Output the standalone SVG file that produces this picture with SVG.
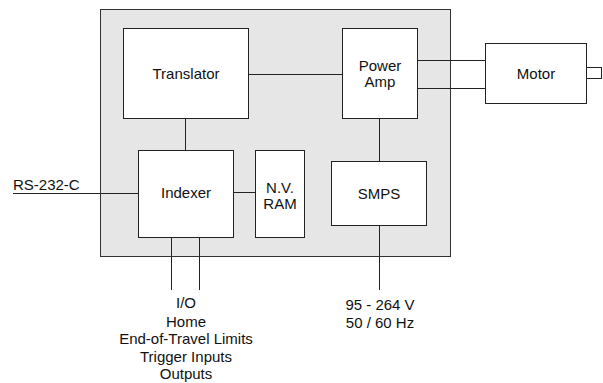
<svg xmlns="http://www.w3.org/2000/svg" width="603" height="383" viewBox="0 0 603 383">
<style>
.box{fill:#ffffff;stroke:#222;stroke-width:1}
.bg{fill:#e6e6e6;stroke:#333;stroke-width:1}
.ln{stroke:#222;stroke-width:1;fill:none}
text{font-family:"Liberation Sans",Arial,sans-serif;font-size:15px;fill:#111;text-anchor:middle}
</style>
<rect width="603" height="383" fill="#ffffff"/>
<g id="enclosure"><rect class="bg" x="100.5" y="9.5" width="350" height="247"/></g>
<g id="connectors">
<line class="ln" x1="249" y1="74.5" x2="342" y2="74.5"/>
<line class="ln" x1="185.5" y1="119" x2="185.5" y2="150"/>
<line class="ln" x1="233" y1="192.5" x2="256" y2="192.5"/>
<line class="ln" x1="379.5" y1="119" x2="379.5" y2="162"/>
<line class="ln" x1="13" y1="193.5" x2="138" y2="193.5"/>
<line class="ln" x1="171.5" y1="237" x2="171.5" y2="290"/>
<line class="ln" x1="199.5" y1="237" x2="199.5" y2="290"/>
<line class="ln" x1="379.5" y1="226" x2="379.5" y2="290"/>
<line class="ln" x1="417" y1="60.5" x2="486" y2="60.5"/>
<line class="ln" x1="417" y1="88.5" x2="486" y2="88.5"/>
</g>
<g id="translator"><rect class="box" x="123.5" y="28.5" width="125" height="90"/><text x="186" y="79">Translator</text></g>
<g id="poweramp"><rect class="box" x="342.5" y="28.5" width="75" height="90"/><text x="380" y="71">Power</text><text x="380" y="87">Amp</text></g>
<g id="indexer"><rect class="box" x="138.5" y="150.5" width="95" height="87"/><text x="186" y="198">Indexer</text></g>
<g id="nvram"><rect class="box" x="255.5" y="150.5" width="49" height="87"/><text x="280" y="193">N.V.</text><text x="280" y="209">RAM</text></g>
<g id="smps"><rect class="box" x="331.5" y="161.5" width="95" height="64"/><text x="379" y="199">SMPS</text></g>
<g id="motor"><rect class="box" x="485.5" y="43.5" width="101" height="60"/><rect class="box" x="586.5" y="67.5" width="15" height="11"/><text x="536" y="79">Motor</text></g>
<g id="labels">
<text x="13" y="190" style="text-anchor:start">RS-232-C</text>
<text x="186" y="308">I/O</text>
<text x="186" y="326.5">Home</text>
<text x="186" y="344">End-of-Travel Limits</text>
<text x="186" y="361.5">Trigger Inputs</text>
<text x="186" y="379">Outputs</text>
<text x="380" y="310">95 - 264 V</text>
<text x="380" y="328">50 / 60 Hz</text>
</g>
</svg>
